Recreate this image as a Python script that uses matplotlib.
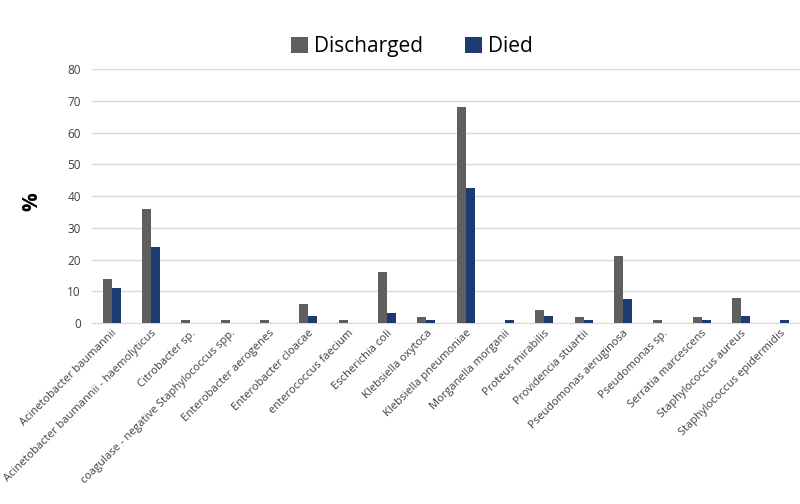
import numpy as np
import matplotlib.pyplot as plt

# organisms and percentages
organisms = [
    "Acinetobacter baumannii",
    "Acinetobacter baumannii - haemolyticus",
    "Citrobacter sp.",
    "coagulase - negative Staphylococcus spp.",
    "Enterobacter aerogenes",
    "Enterobacter cloacae",
    "enterococcus faecium",
    "Escherichia coli",
    "Klebsiella oxytoca",
    "Klebsiella pneumoniae",
    "Morganella morganii",
    "Proteus mirabilis",
    "Providencia stuartii",
    "Pseudomonas aeruginosa",
    "Pseudomonas sp.",
    "Serratia marcescens",
    "Staphylococcus aureus",
    "Staphylococcus epidermidis",
]
discharged = [14, 36, 1, 1, 1, 6, 1, 16, 2, 68, 0, 4, 2, 21, 1, 2, 8, 0]
died = [11, 24, 0, 0, 0, 2.2, 0, 3.3, 1.1, 42.5, 1.1, 2.2, 1.1, 7.7, 0, 1.1, 2.2, 1.1]
yticks = [0, 10, 20, 30, 40, 50, 60, 70, 80]

plt.rcParams['font.family'] = ['Open Sans', 'DejaVu Sans']

fig = plt.figure(figsize=(8, 5.04), dpi=100)
ax = fig.add_axes([0.115, 0.359, 0.885, 0.504])

x = np.arange(len(organisms))
w = 0.23
ax.bar(x - w / 2, discharged, w, color='#5f5f5f', label='Discharged', zorder=3)
ax.bar(x + w / 2, died, w, color='#1d3a73', label='Died', zorder=3)

ax.set_xlim(-0.5, len(organisms) - 0.5)
ax.set_ylim(0, 80)
ax.set_yticks(yticks)
ax.yaxis.grid(True, color='#d9d9d9', linewidth=1, zorder=0)
ax.tick_params(axis='both', length=0, labelsize=8.5, labelcolor='#404040')
ax.tick_params(axis='y', pad=8)
ax.set_xticks(x)
ax.set_xticklabels(organisms, rotation=45, ha='right', rotation_mode='anchor', fontsize=8)
for s in ['top', 'right', 'left']:
    ax.spines[s].set_visible(False)
ax.spines['bottom'].set_color('#d9d9d9')

fig.text(0.04, 0.6, '%', fontsize=15, fontweight='bold', ha='center', va='center', rotation=90)

fig.legend(loc='center', bbox_to_anchor=(0.515, 0.907), ncol=2, frameon=False,
           fontsize=15, handlelength=0.8, handleheight=0.8, handletextpad=0.3, columnspacing=2.0)

fig.savefig('out.png', dpi=100)
